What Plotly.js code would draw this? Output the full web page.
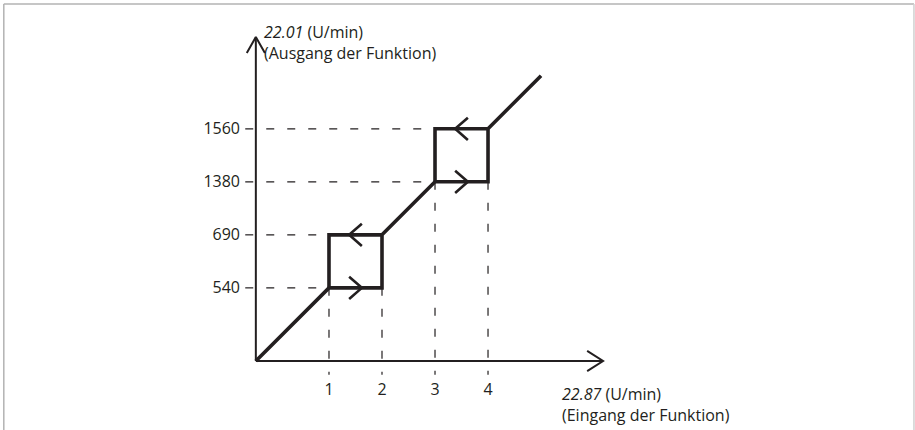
<!DOCTYPE html>
<html>
<head>
<meta charset="utf-8">
<script src="https://cdn.plot.ly/plotly-3.0.1.min.js"></script>
<style>
html,body{margin:0;padding:0;background:#fff;}
#chart{position:absolute;left:0;top:0;width:915px;height:430px;}
</style>
</head>
<body>
<div id="chart"></div>
<script>
// ---- data (positions in abstract axis units; labels as printed) ----
const xTickLabels = ['1', '2', '3', '4'];
const xTickPos = [1.38, 2.38, 3.38, 4.38];
const yTickLabels = ['540', '690', '1380', '1560'];
const yTickPos = [1.38, 2.38, 3.38, 4.38];
const lineEnd = 5.38;          // end of the characteristic (upper right)
const xAxisEnd = 6.55;          // tip of x axis arrow
const yAxisEnd = 6.11;          // tip of y axis arrow
const yTitleLines = ['<i>22.01</i> (U/min)', '(Ausgang der Funktion)'];
const xTitleLines = ['<i>22.87</i> (U/min)', '(Eingang der Funktion)'];

// ---- geometry / styling ----
const U = 53;                    // px per unit (equal on both axes)
const W = 915, H = 430;
const xRange = [-0.28, 6.7];
const yRange = [-0.32, 6.3];
const originPx = [256, 361];
const mL = originPx[0] + xRange[0] * U;
const plotW = (xRange[1] - xRange[0]) * U;
const mR = W - mL - plotW;
const mB = H - (originPx[1] - yRange[0] * U);
const plotH = (yRange[1] - yRange[0]) * U;
const mT = H - mB - plotH;
const px2paperX = p => (p - mL) / plotW;
const px2paperY = p => (H - p - mB) / plotH;

const ink = '#231f20';
const font = {family: 'Open Sans, Noto Sans, sans-serif', size: 16, color: ink};
const dashPat = '8px,13px';

const [x1, x2, x3, x4] = xTickPos;
const [y1, y2, y3, y4] = yTickPos;

const traces = [];

// dashed helper lines (horizontal from left of y axis to box, vertical from box down past x axis)
const hx = [], hy = [];
const dashLeft = -0.2, dashBottom = -0.26;
const hTargets = [x1, x1, x3, x3];
yTickPos.forEach((y, i) => { hx.push(dashLeft, hTargets[i], null); hy.push(y, y, null); });
const vTargets = [y1, y1, y3, y3];
xTickPos.forEach((x, i) => { hx.push(x, x, null); hy.push(vTargets[i], dashBottom, null); });
traces.push({x: hx, y: hy, mode: 'lines', line: {color: ink, width: 1.2, dash: dashPat}, hoverinfo: 'skip', showlegend: false});

// axes
traces.push({x: [0, xAxisEnd, null, 0, 0], y: [0, 0, null, 0, yAxisEnd], mode: 'lines',
  line: {color: ink, width: 2}, hoverinfo: 'skip', showlegend: false});
// axis arrow heads (open chevrons)
const ab = 0.30, ah = 0.19;
traces.push({x: [xAxisEnd - ab, xAxisEnd, xAxisEnd - ab, null, -ah * 0.9, 0, ah * 0.9],
  y: [ah, 0, -ah, null, yAxisEnd - ab, yAxisEnd, yAxisEnd - ab], mode: 'lines',
  line: {color: ink, width: 2}, hoverinfo: 'skip', showlegend: false});

// characteristic with hysteresis boxes
traces.push({
  x: [0, x1, x2, x2, x3, x4, x4, lineEnd, null, x1, x1, x2, null, x3, x3, x4],
  y: [0, y1, y1, y2, y3, y3, y4, lineEnd, null, y1, y2, y2, null, y3, y4, y4],
  mode: 'lines', line: {color: ink, width: 3.6}, hoverinfo: 'skip', showlegend: false
});

// direction chevrons on hysteresis boxes
const cb = 0.12, ch = 0.21;
const cx = [], cy = [];
[[x1, x2, y1, y2], [x3, x4, y3, y4]].forEach(([a, b, lo, hi]) => {
  const m = (a + b) / 2;
  cx.push(m - cb, m + cb, m - cb, null); cy.push(lo + ch, lo, lo - ch, null);
  cx.push(m + cb, m - cb, m + cb, null); cy.push(hi + ch, hi, hi - ch, null);
});
traces.push({x: cx, y: cy, mode: 'lines', line: {color: ink, width: 2.6}, hoverinfo: 'skip', showlegend: false});

const annotations = [
  {xref: 'paper', yref: 'paper', x: px2paperX(262), y: px2paperY(43),
   text: yTitleLines.join('<br>'), align: 'left', showarrow: false, xanchor: 'left', yanchor: 'middle', font: font},
  {xref: 'paper', yref: 'paper', x: px2paperX(560), y: px2paperY(404),
   text: xTitleLines.join('<br>'), align: 'left', showarrow: false, xanchor: 'left', yanchor: 'middle', font: font}
];

const layout = {
  width: W, height: H,
  margin: {l: mL, r: mR, t: mT, b: mB, pad: 0},
  paper_bgcolor: 'rgba(0,0,0,0)', plot_bgcolor: 'rgba(0,0,0,0)',
  showlegend: false,
  font: font,
  xaxis: {range: xRange, tickvals: xTickPos, ticktext: xTickLabels, showgrid: false, zeroline: false,
    showline: false, ticks: '', tickfont: font, fixedrange: true},
  yaxis: {range: yRange, tickvals: yTickPos, ticktext: yTickLabels, showgrid: false, zeroline: false,
    showline: false, ticks: '', tickfont: font, fixedrange: true},
  annotations: annotations,
  shapes: [
    {type: 'line', xref: 'paper', yref: 'paper', x0: px2paperX(4), x1: px2paperX(914),
     y0: px2paperY(4), y1: px2paperY(4), line: {color: '#b3b3b3', width: 1.5}},
    {type: 'line', xref: 'paper', yref: 'paper', x0: px2paperX(4), x1: px2paperX(4),
     y0: px2paperY(4), y1: px2paperY(432), line: {color: '#b3b3b3', width: 1.5}},
    {type: 'line', xref: 'paper', yref: 'paper', x0: px2paperX(914), x1: px2paperX(914),
     y0: px2paperY(4), y1: px2paperY(432), line: {color: '#d0d0d0', width: 1.5}}
  ]
};

Plotly.newPlot('chart', traces, layout, {staticPlot: true, displayModeBar: false});
</script>
</body>
</html>
